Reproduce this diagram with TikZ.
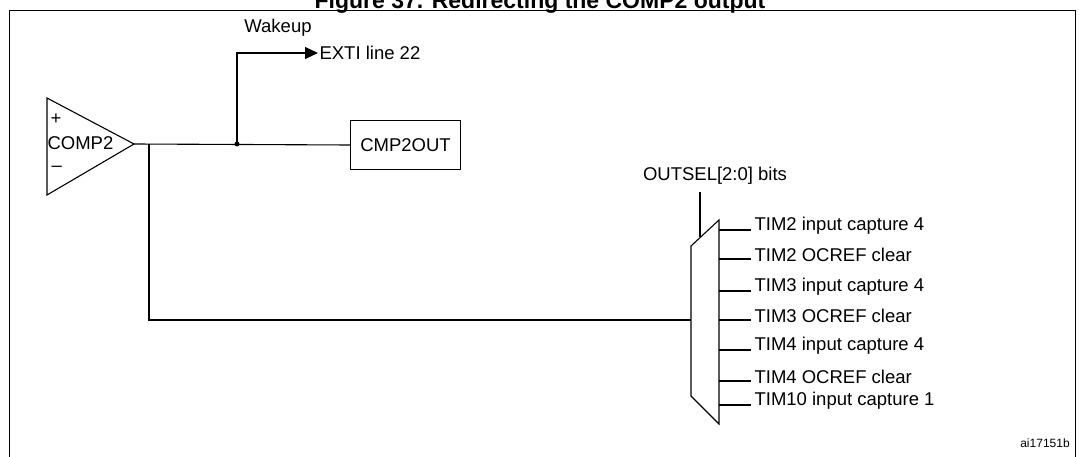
\documentclass[tikz,border=0pt]{standalone}
\usepackage{fontspec}
\setmainfont{Liberation Sans}
\usetikzlibrary{arrows.meta,positioning}

\begin{document}
\begin{tikzpicture}[x=1pt,y=-1pt,line width=1.1pt,
    lbl/.style={font=\fontsize{18.5}{20}\selectfont,inner sep=1pt},
    tout/.style={lbl,anchor=west}]
    \useasboundingbox (0,0) rectangle (1079,457);
    \begin{scope}
    \clip (0,0) rectangle (1079,457);
    % Title and frame
    \node[font=\bfseries\fontsize{23}{25}\selectfont,anchor=base] (title) at (540,9) {Figure 37. Redirecting the COMP2 output};
    \draw[line width=1pt] (9,457) -- (9,11) -- (1075,11) -- (1075,457);
    \end{scope}

    % Comparator
    \draw (47,98) -- (134,144) -- (47,195) -- cycle;
    \coordinate (cout) at (134,144);
    \node[lbl,anchor=west] (plus) at (49,119) {+};
    \node[lbl,anchor=west] (comp) at (46,143) {COMP2};
    \node[lbl,anchor=west] (minus) at (50,169) {--};

    % Output register
    \node[lbl,draw,minimum width=110pt,minimum height=49pt,anchor=west] (cmpout) at (350,145) {CMP2OUT};
    \coordinate (jn) at (237,144);
    \draw (cout) -- (cmpout.west);
    \fill (jn) circle (2.5pt);

    % Wakeup line
    \node[lbl] (wake) at (278,28) {Wakeup};
    \node[tout] (exti) at (318,53) {EXTI line 22};
    \draw[-{Triangle[length=13pt,width=12pt]}] (jn) |- (exti.west);

    % Multiplexer
    \draw (691,246) -- (719,220) -- (719,424) -- (691,396) -- cycle;
    \node[lbl] (sel) at (715,176) {OUTSEL[2:0] bits};
    \coordinate (selin) at (700,237);
    \draw (700,192) -- (selin);
    \coordinate (muxin) at (691,320);
    \draw (149,144) |- (muxin);

    % Timer outputs
    \foreach \y/\t in {230/TIM2 input capture 4, 259/TIM2 OCREF clear,
        291/TIM3 input capture 4, 320/TIM3 OCREF clear,
        350/TIM4 input capture 4, 381/TIM4 OCREF clear,
        405/TIM10 input capture 1}{
      \node[tout] (t\y) at (753,\y-4) {\t};
      \draw (719,\y) -- (751,\y);
    }

    \node[font=\fontsize{12}{14}\selectfont] (id) at (1045,443) {ai17151b};
\end{tikzpicture}
\end{document}
